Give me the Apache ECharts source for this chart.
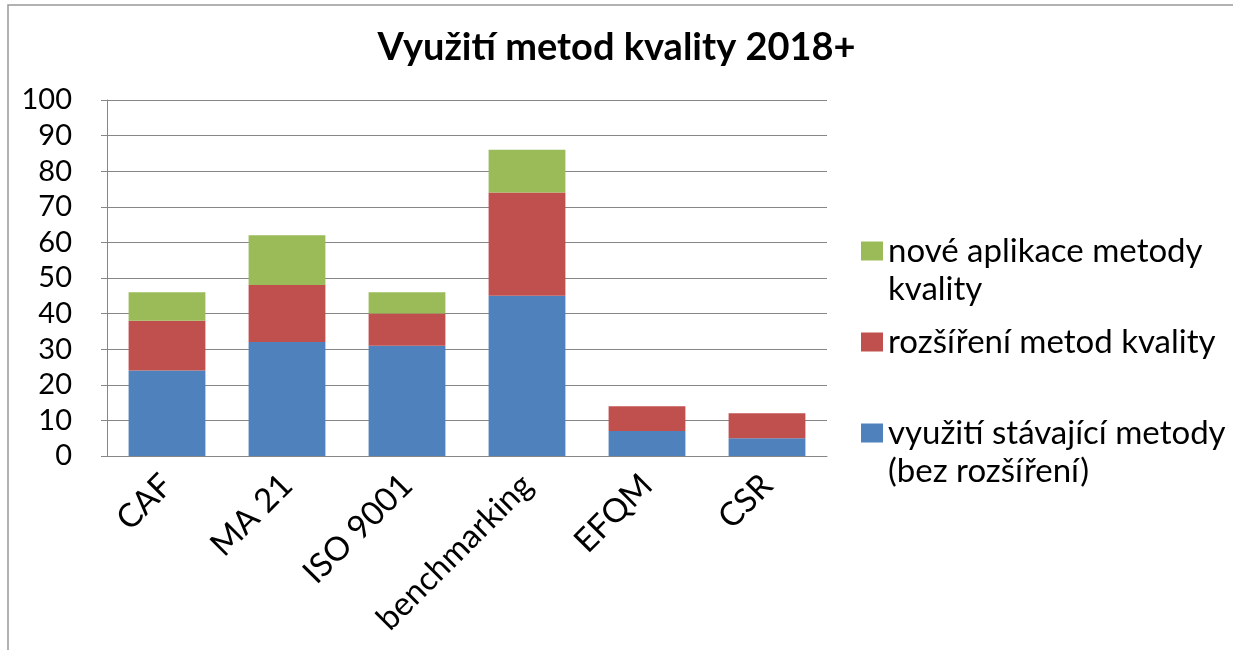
<!DOCTYPE html>
<html>
<head>
<meta charset="utf-8">
<script src="https://cdn.jsdelivr.net/npm/echarts@6/dist/echarts.min.js"></script>
<style>
  html, body { margin: 0; padding: 0; background: #fff; }
  #chart { width: 1233px; height: 650px; }
</style>
</head>
<body>
<div id="chart"></div>
<script>
// data
const categories = ['CAF', 'MA 21', 'ISO 9001', 'benchmarking', 'EFQM', 'CSR'];
const existing = [24, 32, 31, 45, 7, 5];   // využití stávající metody
const extended = [14, 16, 9, 29, 7, 7];    // rozšíření metod kvality
const newApps = [8, 14, 6, 12, 0, 0];      // nové aplikace metody kvality
const yTicks = { min: 0, max: 100, interval: 10 };

const nameExisting = 'využití stávající metody\n(bez rozšíření)';
const nameExtended = 'rozšíření metod kvality';
const nameNew = 'nové aplikace metody\nkvality';

const font = 'Lato';
const gridColor = '#868686';

const chart = echarts.init(document.getElementById('chart'));

// one legend per entry so each can sit where the reference puts it.
// legend text is always centred on the icon, so two-line entries get
// an empty line in front to bring the first line level with the icon
function makeLegend(name, top, twoLines) {
    return {
        data: [name],
        left: 861,
        top: top,
        padding: 0,
        icon: 'rect',
        itemWidth: 22,
        itemHeight: 19,
        itemGap: 0,
        selectedMode: false,
        formatter: n => (twoLines ? '\n' + n : n),
        textStyle: {
            fontFamily: font,
            fontSize: 33,
            color: '#000',
            lineHeight: 38
        }
    };
}

const option = {
    backgroundColor: '#fff',
    animation: false,
    title: {
        text: 'Využití metod kvality 2018+',
        left: 'center',
        top: 24,
        textStyle: { fontFamily: font, fontSize: 38, fontWeight: 'bold', color: '#000' }
    },
    legend: [
        makeLegend(nameNew, 194, true),
        makeLegend(nameExtended, 323, false),
        makeLegend(nameExisting, 376, true)
    ],
    grid: { left: 107, right: 406, top: 100, bottom: 194 },
    xAxis: {
        type: 'category',
        data: categories,
        axisLine: { lineStyle: { color: gridColor } },
        axisTick: { show: false },
        axisLabel: {
            rotate: 45,
            margin: 24,
            interval: 0,
            fontFamily: font,
            fontSize: 33,
            color: '#000'
        }
    },
    yAxis: {
        type: 'value',
        min: yTicks.min,
        max: yTicks.max,
        interval: yTicks.interval,
        axisLine: { show: true, lineStyle: { color: gridColor } },
        axisTick: { show: true, length: 6, lineStyle: { color: gridColor } },
        splitLine: { lineStyle: { color: gridColor, width: 1 } },
        axisLabel: { margin: 35, fontFamily: font, fontSize: 29, color: '#000' }
    },
    graphic: [{
        type: 'rect',
        shape: { x: 8, y: 5, width: 1400, height: 800 },
        style: { fill: 'none', stroke: '#999', lineWidth: 1.5 },
        silent: true,
        z: -1
    }],
    series: [
        { name: nameExisting, type: 'bar', stack: 'q', data: existing, barCategoryGap: '36%', itemStyle: { color: '#4F81BD' } },
        { name: nameExtended, type: 'bar', stack: 'q', data: extended, itemStyle: { color: '#C0504D' } },
        { name: nameNew, type: 'bar', stack: 'q', data: newApps, itemStyle: { color: '#9BBB59' } }
    ]
};

chart.setOption(option);
</script>
</body>
</html>
